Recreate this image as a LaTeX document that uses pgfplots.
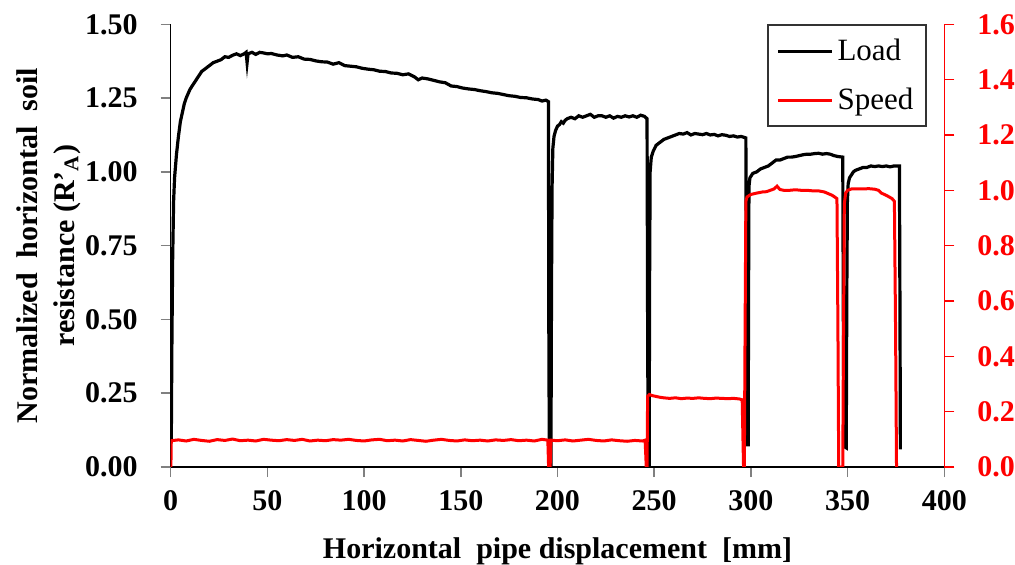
\documentclass[border=0pt]{standalone}
\usepackage{pgfplots}
\pgfplotsset{compat=1.18}
\usepackage{fontspec}
\setmainfont{Liberation Serif}

\begin{document}
\begin{tikzpicture}
\pgfplotsset{
  every axis/.append style={
    scale only axis, width=386.8bp, height=221.35bp,
    xmin=0, xmax=400,
    tick align=outside, major tick length=5bp,
    /pgf/number format/assume math mode=true,
    tick label style={font=\fontsize{15bp}{18bp}\selectfont\bfseries},
    label style={font=\fontsize{15bp}{18.5bp}\selectfont\bfseries},
    axis line style={line width=0.75bp},
    every tick/.append style={line width=0.75bp},
  }
}
% left axis: load
\begin{axis}[
  axis x line*=bottom, axis y line*=left,
  ymin=0, ymax=1.5,
  ytick={0,0.25,0.5,0.75,1,1.25,1.5},
  xtick={0,50,100,150,200,250,300,350,400},
  yticklabel style={xshift=-8bp, /pgf/number format/.cd, fixed, fixed zerofill, precision=2},
  xticklabel style={yshift=-3.5bp},
  xlabel={Horizontal\ \ pipe displacement\ \ [mm]},
  ylabel={Normalized\ \ horizontal\ \ soil\\resistance (R'\textsubscript{A})},
  xlabel style={at={(axis description cs:0.5,-0.2056)}, anchor=base},
  ylabel style={at={(axis description cs:-0.116,0.5)}, anchor=south, align=center, inner sep=0pt},
]
\addplot[black, line width=1.6bp] coordinates {
(0.3,0.08) (0.6,0.40) (1.0,0.70) (1.5,0.90) (2,0.98) (3,1.06) (4,1.12) (5,1.17) (6,1.20) (7,1.23) (8,1.25) (10,1.28) (12,1.30) (14,1.32) (16,1.34) (18,1.35) (20,1.36) (22,1.37) (24,1.375) (26,1.38) (28,1.39) (30,1.388) (32,1.395) (34,1.40) (36,1.394) (38,1.40) (39,1.405) (39.5,1.37) (40,1.40) (42,1.405) (44,1.398) (46,1.405) (48,1.403) (50,1.40) (52,1.401) (55,1.396) (58,1.393) (60,1.396) (63,1.388) (66,1.39) (69,1.382) (72,1.381) (75,1.376) (78,1.373) (81,1.372) (84,1.365) (87,1.37) (90,1.36) (93,1.358) (96,1.356) (99,1.351) (102,1.348) (105,1.346) (108,1.341) (111,1.34) (114,1.335) (117,1.334) (120,1.329) (123,1.332) (126,1.322) (128,1.312) (130,1.318) (133,1.315) (136,1.31) (139,1.305) (142,1.302) (145,1.291) (148,1.289) (151,1.284) (154,1.281) (157,1.279) (160,1.275) (163,1.272) (166,1.268) (169,1.266) (172,1.262) (175,1.258) (178,1.256) (181,1.252) (184,1.251) (187,1.247) (190,1.245) (192,1.24) (194,1.243) (195.3,1.238) (195.5,0.5) (195.8,0.0)
(196.6,0.0) (196.9,0.6) (197.2,0.95) (197.6,1.08) (198.2,1.12) (199,1.14) (200,1.155) (201,1.16) (202,1.17) (203,1.165) (204,1.175) (205,1.18) (207,1.185) (209,1.18) (211,1.19) (213,1.185) (215,1.19) (217,1.195) (219,1.185) (221,1.19) (223,1.19) (225,1.185) (227,1.19) (229,1.182) (231,1.188) (233,1.185) (235,1.19) (237,1.186) (239,1.19) (241,1.185) (243,1.192) (245,1.188) (246.3,1.18) (246.6,0.5) (246.9,0.0)
(247.4,0.0) (247.6,0.6) (247.9,1.0) (248.5,1.05) (249.5,1.07) (251,1.09) (253,1.10) (255,1.11) (257,1.115) (259,1.12) (261,1.125) (263,1.13) (265,1.128) (267,1.133) (269,1.125) (271,1.13) (273,1.128) (275,1.126) (277,1.13) (279,1.125) (281,1.127) (283,1.122) (285,1.126) (287,1.124) (289,1.12) (291,1.122) (293,1.118) (295,1.12) (297.4,1.115) (297.7,0.5) (298.0,0.075)
(298.6,0.075) (298.8,0.6) (299.0,0.95) (299.5,0.98) (301,0.995) (303,1.0) (305,1.01) (307,1.015) (309,1.02) (311,1.03) (313,1.04) (315,1.04) (317,1.045) (319,1.05) (321,1.05) (323,1.052) (325,1.055) (327,1.058) (329,1.06) (331,1.06) (333,1.062) (335,1.063) (337,1.06) (339,1.062) (341,1.06) (343,1.055) (345,1.052) (347.5,1.05) (347.8,0.5) (348.1,0.07)
(349.3,0.065) (349.6,0.6) (349.9,0.9) (350.3,0.96) (351,0.98) (352,0.99) (353,1.0) (354,1.005) (356,1.01) (358,1.015) (360,1.015) (362,1.02) (364,1.018) (366,1.02) (368,1.018) (370,1.02) (372,1.017) (374,1.02) (376,1.02) (376.8,1.02) (377.1,0.5) (377.3,0.06)
};
\end{axis}
% right axis: speed
\begin{axis}[
  axis x line=none, axis y line*=right,
  ymin=0, ymax=1.6,
  ytick={0,0.2,0.4,0.6,0.8,1.0,1.2,1.4,1.6},
  y axis line style={red},
  ytick style={red},
  yticklabel style={red, xshift=8bp, /pgf/number format/.cd, fixed, fixed zerofill, precision=1},
  legend style={at={(axis description cs:0.978,1)}, anchor=north east,
    draw=black!80, line width=1bp, fill=white,
    font=\fontsize{15.5bp}{18bp}\selectfont, row sep=8bp,
    inner xsep=4.5bp, inner ysep=5bp},
  legend cell align=left,
  legend image code/.code={\draw[#1, line width=1.5bp] (0bp,0bp) -- (27bp,0bp);},
]
\addlegendimage{black}
\addlegendentry{Load}
\addplot[red, line width=1.5bp] coordinates {
(0.1,0) (0.3,0.095) (4,0.098) (8,0.094) (12,0.1) (16,0.096) (20,0.093) (24,0.099) (28,0.096) (32,0.101) (36,0.095) (40,0.097) (44,0.094) (48,0.1) (52,0.097) (56,0.095) (60,0.099) (64,0.096) (68,0.1) (72,0.094) (76,0.097) (80,0.095) (84,0.099) (88,0.097) (92,0.1) (96,0.096) (100,0.094) (104,0.098) (108,0.1) (112,0.095) (116,0.097) (120,0.094) (124,0.099) (128,0.096) (132,0.093) (136,0.097) (140,0.1) (144,0.096) (148,0.094) (152,0.098) (156,0.095) (160,0.097) (164,0.094) (168,0.098) (172,0.096) (176,0.099) (180,0.095) (184,0.097) (188,0.094) (192,0.1) (195,0.097) (195.2,0.05) (195.4,0.0)
(196.2,0.0) (196.4,0.05) (196.6,0.097) (200,0.095) (204,0.098) (208,0.094) (212,0.097) (216,0.1) (220,0.096) (224,0.094) (228,0.098) (232,0.095) (236,0.093) (240,0.096) (244,0.094) (245.3,0.097) (245.6,0.05) (245.9,0.0)
(246.3,0.0) (246.6,0.255) (247.5,0.262) (249,0.258) (251,0.255) (253,0.252) (255,0.25) (258,0.248) (261,0.25) (264,0.247) (267,0.249) (270,0.248) (273,0.25) (276,0.248) (279,0.247) (282,0.249) (285,0.248) (288,0.247) (291,0.248) (294,0.246) (295.5,0.243) (295.9,0.1) (296.2,0.0)
(296.6,0.0) (297.0,0.5) (297.4,0.96) (298,0.976) (300,0.985) (303,0.99) (306,0.994) (308,0.995) (310,1.0) (312,1.005) (313.5,1.015) (315,1.003) (317,1.0) (320,1.0) (323,1.002) (326,1.0) (329,1.0) (332,0.998) (335,0.998) (338,0.994) (340,0.988) (342,0.982) (343.5,0.975) (344.5,0.97) (345.0,0.5) (345.4,0.0)
(347.5,0.0) (347.9,0.5) (348.3,0.95) (349,0.99) (350,1.0) (352,1.005) (355,1.005) (358,1.005) (361,1.006) (364,1.004) (366,1.0) (367.5,0.99) (369,0.985) (371,0.978) (373,0.97) (374.2,0.96) (374.8,0.5) (375.3,0.0)
};
\addlegendentry{Speed}
\end{axis}
\pgfresetboundingbox
\useasboundingbox (-85.35bp,-49bp) rectangle (422.15bp,233.5bp);
\end{tikzpicture}
\end{document}
